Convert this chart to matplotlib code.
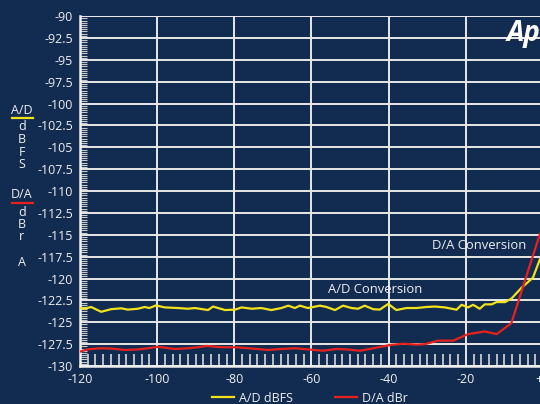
import matplotlib.pyplot as plt
from matplotlib.lines import Line2D
from matplotlib.ticker import MultipleLocator
import numpy as np

plt.rcParams['font.family'] = ['Open Sans', 'DejaVu Sans']

# A/D dBFS (yellow)
ad_x = [-120, -118.8, -117.1, -114.5, -111.9, -109.3, -107.6, -105, -103.2, -102, -100.3,
        -98, -94.6, -92, -90.2, -86.8, -85.5, -82.4, -79.8, -78.1, -75.5, -73, -70.4,
        -67.8, -66, -64.3, -63, -60.9, -57.8, -56.1, -53.9, -51.8, -49.6, -47.9, -46.2,
        -44, -42.3, -40.1, -38, -35.4, -32.8, -30.2, -28, -25.4, -22.4, -21.1, -19.4,
        -18.1, -16.4, -15.1, -13.3, -12, -9.9, -8.2, -5.6, -2.6, -0.8]
ad_y = [-123.37, -123.45, -123.25, -123.8, -123.5, -123.4, -123.55, -123.45, -123.25, -123.37, -123.07,
        -123.3, -123.37, -123.45, -123.37, -123.6, -123.2, -123.6, -123.55, -123.3, -123.45, -123.37, -123.6,
        -123.37, -123.1, -123.37, -123.1, -123.37, -123.1, -123.25, -123.6, -123.1, -123.37, -123.45, -123.1,
        -123.5, -123.55, -122.9, -123.6, -123.37, -123.37, -123.25, -123.2, -123.3, -123.56, -123.0, -123.3,
        -123.0, -123.45, -122.95, -122.95, -122.68, -122.7, -122.3, -121.07, -119.9, -117.8]

# D/A dBr (red)
da_x = [-120, -117.9, -114.5, -111.9, -108.4, -105, -102.4, -99.8, -95.5, -92, -89.4, -87.2,
        -83.3, -79.8, -75.5, -71.2, -67.8, -64.3, -60.9, -57, -53.5, -50.9, -47.4, -44,
        -39.7, -36.2, -32.8, -30.6, -27.2, -23.3, -19.4, -15.1, -12, -8.2, -0.8]
da_y = [-128.36, -128.08, -127.97, -128.0, -128.16, -128.1, -127.97, -127.8, -128.05, -127.97, -127.85, -127.7,
        -127.85, -127.85, -128.0, -128.16, -128.05, -127.97, -128.1, -128.25, -128.05, -128.1, -128.25, -127.97,
        -127.6, -127.45, -127.55, -127.5, -127.1, -127.1, -126.35, -126.05, -126.35, -125.1, -114.9]

x_ticks = [-120, -100, -80, -60, -40, -20, 0]
x_labels = ['-120', '-100', '-80', '-60', '-40', '-20', '+0']
y_ticks = np.arange(-130, -89, 2.5)

bg = '#122b50'
fg = '#f0f0f0'

fig = plt.figure(figsize=(5.4, 4.04), dpi=100, facecolor=bg)
ax = fig.add_axes([0.148, 0.094, 0.929, 0.866], facecolor=bg)

ax.plot(ad_x, ad_y, color='#f2e21a', lw=1.6, zorder=3)
ax.plot(da_x, da_y, color='#e8211d', lw=1.6, zorder=3)

ax.set_xlim(-120, 10)
ax.set_ylim(-130, -90)
ax.set_xticks(x_ticks)
ax.set_xticklabels(x_labels)
ax.set_yticks(y_ticks)
ax.set_yticklabels(['%g' % v for v in y_ticks])
ax.xaxis.set_minor_locator(MultipleLocator(2))
ax.yaxis.set_minor_locator(MultipleLocator(0.25))

ax.grid(True, which='major', color='#e8e8e8', lw=1.4, zorder=1)
ax.tick_params(which='major', length=0, colors=fg, labelsize=9, pad=5)
ax.tick_params(axis='x', which='minor', direction='in', length=9, width=1.2, color='#d8d8d8')
ax.tick_params(axis='y', which='minor', direction='in', length=5, width=0.8, color='#c8c8c8')
ax.tick_params(axis='x', which='minor', top=False)
for s in ['top', 'right']:
    ax.spines[s].set_visible(False)
for s in ['left', 'bottom']:
    ax.spines[s].set_color(fg)
    ax.spines[s].set_linewidth(1.8)
ax.axhline(-90, color='#e8e8e8', lw=1.4, zorder=1)

ax.text(-55.8, -121.3, 'A/D Conversion', color=fg, fontsize=9.4, va='center', ha='left')
ax.text(-28.8, -116.2, 'D/A Conversion', color=fg, fontsize=9.4, va='center', ha='left')

# left side axis captions
fig.text(22 / 540, 1 - 110 / 404, 'A/D', color=fg, fontsize=9, ha='center', va='center')
fig.add_artist(Line2D([12 / 540, 33 / 540], [1 - 118 / 404] * 2, color='#f2e21a', lw=1.6))
for i, ch in enumerate('dBFS'):
    fig.text(22 / 540, 1 - (127 + i * 12.5) / 404, ch, color=fg, fontsize=9, ha='center', va='center')
fig.text(22 / 540, 1 - 195 / 404, 'D/A', color=fg, fontsize=9, ha='center', va='center')
fig.add_artist(Line2D([12 / 540, 33 / 540], [1 - 203 / 404] * 2, color='#e8211d', lw=1.6))
for i, ch in enumerate('dBr'):
    fig.text(22 / 540, 1 - (212 + i * 12.5) / 404, ch, color=fg, fontsize=9, ha='center', va='center')
fig.text(22 / 540, 1 - 262 / 404, 'A', color=fg, fontsize=9, ha='center', va='center')

fig.text(507 / 540, 1 - 33 / 404, 'Ap', color='white', fontsize=20, fontweight='bold',
         fontstyle='italic', ha='left', va='center')

handles = [Line2D([], [], color='#f2e21a', lw=1.6), Line2D([], [], color='#e8211d', lw=1.6)]
leg = fig.legend(handles, ['A/D dBFS', 'D/A dBr'], loc='center', ncol=2,
                 bbox_to_anchor=(0.574, 1 - 398 / 404), frameon=False, fontsize=9,
                 handlelength=1.75, handletextpad=0.4, columnspacing=3.4, labelcolor=fg)

fig.savefig('out.png', dpi=100, facecolor=bg)
